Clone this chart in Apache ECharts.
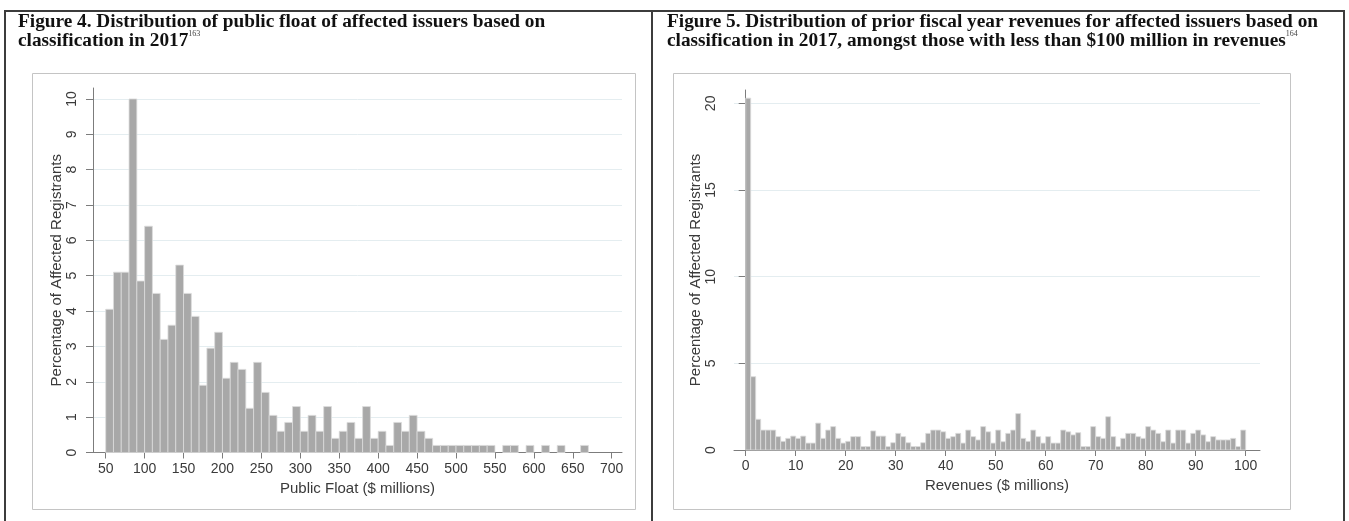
<!DOCTYPE html>
<html>
<head>
<meta charset="utf-8">
<script src="https://cdn.jsdelivr.net/npm/echarts@6/dist/echarts.min.js"></script>
<style>
html,body{margin:0;padding:0;background:#fff;}
#c{width:1349px;height:521px;}
</style>
</head>
<body>
<div id="c"></div>
<script>
// ---- Figure 4 data: public float histogram (bin width 10, $ millions) ----
var floatBinStart = [50,60,70,80,90,100,110,120,130,140,150,160,170,180,190,200,210,220,230,240,250,260,270,280,290,300,310,320,330,340,350,360,370,380,390,400,410,420,430,440,450,460,470,480,490,500,510,520,530,540,550,560,570,580,590,600,610,620,630,640,650,660];
var floatPct = [4.05,5.1,5.1,10,4.85,6.4,4.5,3.2,3.6,5.3,4.5,3.85,1.9,2.95,3.4,2.1,2.55,2.35,1.25,2.55,1.7,1.05,0.6,0.85,1.3,0.6,1.05,0.6,1.3,0.4,0.6,0.85,0.4,1.3,0.4,0.6,0.2,0.85,0.6,1.05,0.6,0.4,0.2,0.2,0.2,0.2,0.2,0.2,0.2,0.2,0,0.2,0.2,0,0.2,0,0.2,0,0.2,0,0,0.2];
var floatBinWidth = 10;
var floatTicks = [50,100,150,200,250,300,350,400,450,500,550,600,650,700];
var floatYTicks = [0,1,2,3,4,5,6,7,8,9,10];

// ---- Figure 5 data: revenues histogram (bin width 1, $ millions) ----
var revBinWidth = 1;
var revPct = [20.3,4.23,1.77,1.15,1.15,1.15,0.77,0.5,0.67,0.8,
              0.67,0.8,0.4,0.4,1.55,0.67,1.15,1.35,0.67,0.4,
              0.5,0.77,0.77,0.2,0.2,1.1,0.8,0.8,0.2,0.42,
              0.96,0.77,0.42,0.2,0.2,0.42,0.96,1.15,1.15,1.05,
              0.67,0.77,0.96,0.4,1.15,0.77,0.58,1.35,1.05,0.4,
              1.15,0.48,0.96,1.15,2.1,0.67,0.5,1.15,0.77,0.4,
              0.77,0.4,0.4,1.15,1.05,0.87,1.0,0.2,0.2,1.35,
              0.77,0.67,1.92,0.77,0.2,0.67,0.96,0.96,0.77,0.67,
              1.35,1.15,0.96,0.48,1.15,0.4,1.15,1.15,0.4,0.96,
              1.15,0.87,0.48,0.77,0.58,0.58,0.58,0.67,0.2,1.15];
var revTicks = [0,10,20,30,40,50,60,70,80,90,100];
var revYTicks = [0,5,10,15,20];

// ---- texts ----
var title4a = 'Figure 4. Distribution of public float of affected issuers based on';
var title4b = 'classification in 2017';
var note4 = '163';
var title5a = 'Figure 5. Distribution of prior fiscal year revenues for affected issuers based on';
var title5b = 'classification in 2017, amongst those with less than $100 million in revenues';
var note5 = '164';
var yTitle = 'Percentage of Affected Registrants';
var xTitle4 = 'Public Float ($ millions)';
var xTitle5 = 'Revenues ($ millions)';

var floatData = floatBinStart.map(function(s,i){return [s, floatPct[i]];});
var revData = revPct.map(function(v,i){return [i*revBinWidth, v];});

var BAR_FILL = '#a8a8a8', BAR_EDGE = '#dcdcdc';
function histItem(binW){
  return function(params, api){
    var x0 = api.value(0), h = api.value(1);
    if (!h) return null;
    var p0 = api.coord([x0, h]);
    var p1 = api.coord([x0 + binW, 0]);
    return {type:'rect', shape:{x:p0[0], y:p0[1], width:p1[0]-p0[0], height:p1[1]-p0[1]},
            style:{fill:BAR_FILL, stroke:BAR_EDGE, lineWidth:0.8}};
  };
}

var FONT = "'Liberation Sans', Arial, sans-serif";
var SERIF = "'Liberation Serif', 'Times New Roman', serif";
var AX = '#7c7c7c', TXT = '#3a3a3a', GRID = '#e4edf0';
var TFONT = 'bold 19.3px ' + SERIF;
var LAB = 14, NAMEF = 15;

function xAx(grid, min, max, ticks, name, nameGap, labelMargin){
  return {type:'value', gridIndex:grid, min:min, max:max,
    axisLine:{show:true, lineStyle:{color:AX, width:1}},
    axisTick:{show:true, length:6, customValues:ticks, lineStyle:{color:AX}},
    axisLabel:{customValues:ticks, color:TXT, fontSize:LAB, fontFamily:FONT, margin:labelMargin},
    splitLine:{show:false},
    name:name, nameLocation:'middle', nameGap:nameGap,
    nameTextStyle:{color:TXT, fontSize:NAMEF, fontFamily:FONT}};
}
function yAx(grid, max, ticks, nameGap, labelMargin){
  return {type:'value', gridIndex:grid, min:0, max:max,
    axisLine:{show:true, lineStyle:{color:AX, width:1}},
    axisTick:{show:true, length:7, customValues:ticks, lineStyle:{color:AX}},
    axisLabel:{customValues:ticks, rotate:90, color:TXT, fontSize:LAB, fontFamily:FONT, margin:labelMargin},
    splitLine:{show:true, lineStyle:{color:GRID, width:1}},
    name:yTitle, nameLocation:'middle', nameGap:nameGap,
    nameTextStyle:{color:TXT, fontSize:NAMEF, fontFamily:FONT}};
}

var chart = echarts.init(document.getElementById('c'), null, {renderer:'canvas'});
chart.setOption({
  animation:false,
  backgroundColor:'#ffffff',
  grid:[
    {left:93, top:88, width:529, height:364.5},
    {left:734, top:90, width:526, height:360}
  ],
  xAxis:[
    xAx(0, 33.7, 713.2, floatTicks, xTitle4, 26, 10),
    xAx(1, -2.34, 102.86, revTicks, xTitle5, 22, 9)
  ],
  yAxis:[
    yAx(0, 10.31, floatYTicks, 25, 14),
    yAx(1, 20.77, revYTicks, 29, 16)
  ],
  series:[
    {type:'custom', xAxisIndex:0, yAxisIndex:0, renderItem:histItem(floatBinWidth), data:floatData, encode:{x:0,y:1}, z:3},
    {type:'custom', xAxisIndex:1, yAxisIndex:1, renderItem:histItem(revBinWidth), data:revData, encode:{x:0,y:1}, z:3}
  ],
  graphic:[
    // outer table frame
    {type:'line', shape:{x1:5, y1:11, x2:1344, y2:11}, style:{stroke:'#3c3c3c', lineWidth:2}},
    {type:'line', shape:{x1:5, y1:10, x2:5, y2:521}, style:{stroke:'#3c3c3c', lineWidth:2}},
    {type:'line', shape:{x1:652, y1:10, x2:652, y2:521}, style:{stroke:'#3c3c3c', lineWidth:2}},
    {type:'line', shape:{x1:1344, y1:10, x2:1344, y2:521}, style:{stroke:'#3c3c3c', lineWidth:2}},
    // chart boxes
    {type:'rect', shape:{x:32.5, y:73.5, width:603, height:436}, style:{fill:'none', stroke:'#c4c4c4', lineWidth:1}},
    {type:'rect', shape:{x:673.5, y:73.5, width:617, height:436}, style:{fill:'none', stroke:'#c4c4c4', lineWidth:1}},
    // titles
    {type:'text', x:18, y:22, style:{text:title4a, font:TFONT, fill:'#111', verticalAlign:'middle'}},
    {type:'text', x:18, y:41, style:{text:title4b + '{sup|' + note4 + '}', font:TFONT, fill:'#111', verticalAlign:'middle',
       rich:{sup:{fontSize:8, fontFamily:SERIF, fontWeight:'normal', fill:'#444', verticalAlign:'top', lineHeight:22}}}},
    {type:'text', x:667, y:22, style:{text:title5a, font:TFONT, fill:'#111', verticalAlign:'middle'}},
    {type:'text', x:667, y:41, style:{text:title5b + '{sup|' + note5 + '}', font:TFONT, fill:'#111', verticalAlign:'middle',
       rich:{sup:{fontSize:8, fontFamily:SERIF, fontWeight:'normal', fill:'#444', verticalAlign:'top', lineHeight:22}}}}
  ]
});
</script>
</body>
</html>
